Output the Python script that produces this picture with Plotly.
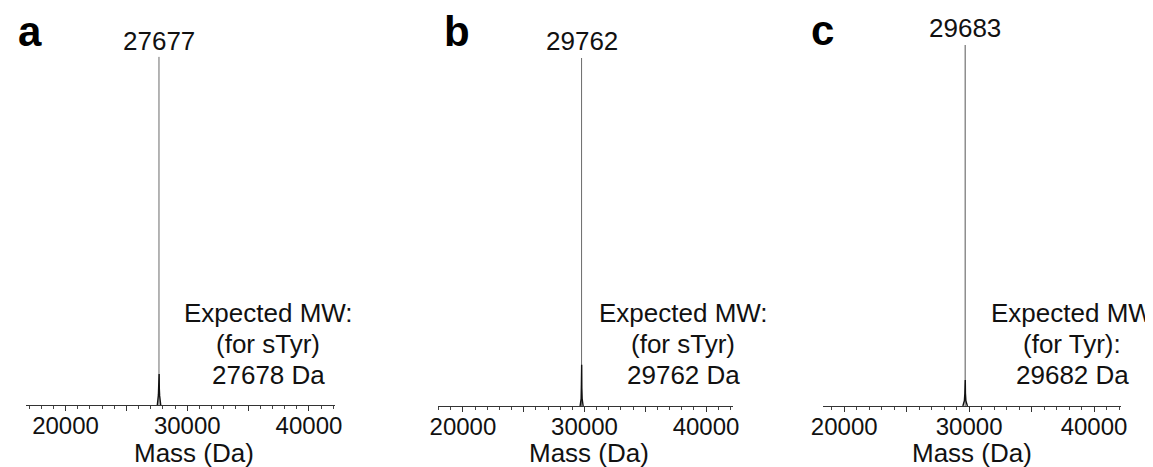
import plotly.graph_objects as go

W, H = 1153, 467

# ---- data -------------------------------------------------------------
panel_letters = ["a", "b", "c"]
peak_mass = [27677, 29762, 29683]          # labelled main peaks (Da)
peak_int = [96.7, 96.4, 100.0]             # relative intensity of main peaks

# low-intensity profile around the base of each main peak
base_mass_a = [27540, 27590, 27630, 27655, 27668, 27690, 27705, 27730, 27770, 27820]
base_int_a = [0.0, 1.2, 2.8, 5.5, 8.6, 8.6, 4.5, 2.6, 1.0, 0.0]
base_mass_b = [29640, 29690, 29725, 29748, 29755, 29770, 29782, 29810, 29850, 29890]
base_int_b = [0.0, 0.8, 2.0, 6.0, 11.4, 11.4, 5.0, 2.0, 0.8, 0.0]
base_mass_c = [29500, 29560, 29620, 29660, 29675, 29692, 29705, 29740, 29800, 29860]
base_int_c = [0.0, 0.6, 1.5, 3.5, 7.2, 7.2, 3.5, 1.5, 0.6, 0.0]
base_mass = [base_mass_a, base_mass_b, base_mass_c]
base_int = [base_int_a, base_int_b, base_int_c]

expected_lines = [
    ["Expected MW:", "(for sTyr)", "27678 Da"],
    ["Expected MW:", "(for sTyr)", "29762 Da"],
    ["Expected MW", "(for Tyr):", "29682 Da"],
]
x_ranges = [[16750, 42140], [17950, 42220], [18300, 42160]]
tick_vals = [20000, 25000, 30000, 35000, 40000]
tick_text = ["20000", "", "30000", "", "40000"]
x_title = "Mass (Da)"

# ---- layout geometry (pixels from the top-left of the page) -------------
ML, MR, MT, MB = 0, 0, 0, 0
PW, PH = W - ML - MR, H - MT - MB
x_dom_px = [(18, 327), (430, 725), (815, 1113)]
axis_y_px = [397, 398, 398]
top_px = 37
letter_pos = [(22, 24), (449, 24), (814, 22)]
peak_label_y = [33, 33, 20]
exp_x = [260, 675, 1064]
exp_y = [305, 336, 367]
title_x = [186, 581, 964]
title_y = 445

FONT = "Liberation Sans, Arial, Helvetica, sans-serif"


def px(xp):
    return (xp - ML) / PW


def py(yp):
    return 1 - (yp - MT) / PH


fig = go.Figure()
annotations = []
for i in range(3):
    s = "" if i == 0 else str(i + 1)
    xa, ya = "x" + s, "y" + s
    # main stick
    fig.add_trace(go.Scatter(
        x=[peak_mass[i], peak_mass[i]], y=[0, peak_int[i]], mode="lines",
        line=dict(color="#6a6a6a" if i < 2 else "#555555", width=1),
        xaxis=xa, yaxis=ya, showlegend=False, hoverinfo="skip"))
    # base profile
    fig.add_trace(go.Scatter(
        x=base_mass[i], y=base_int[i], mode="lines",
        line=dict(color="#111111", width=1.4),
        xaxis=xa, yaxis=ya, showlegend=False, hoverinfo="skip"))

    fig.update_layout(**{
        "xaxis" + s: dict(
            domain=[px(x_dom_px[i][0]), px(x_dom_px[i][1])],
            range=x_ranges[i], anchor=ya, automargin=False,
            showline=True, linecolor="#333333", linewidth=1,
            showgrid=False, zeroline=False,
            tickmode="array", tickvals=tick_vals, ticktext=tick_text,
            ticks="outside", ticklen=5, tickwidth=1, tickcolor="#333333",
            ticklabelstandoff=-6,
            minor=dict(dtick=1000, tick0=0, ticks="outside", ticklen=3,
                       tickwidth=1, tickcolor="#444444", showgrid=False),
            tickfont=dict(family=FONT, size=24, color="#111111"),
            fixedrange=True,
        ),
        "yaxis" + s: dict(
            domain=[py(axis_y_px[i]), py(top_px)],
            range=[0, 100], anchor=xa, visible=False, fixedrange=True,
            automargin=False,
        ),
    })

    annotations.append(dict(
        text="<b>%s</b>" % panel_letters[i], xref="paper", yref="paper",
        x=px(letter_pos[i][0]), y=py(letter_pos[i][1]),
        xanchor="center", yanchor="middle", showarrow=False,
        font=dict(family=FONT, size=42, color="#000000")))
    annotations.append(dict(
        text=str(peak_mass[i]), xref=xa, yref="paper",
        x=peak_mass[i], y=py(peak_label_y[i]),
        xanchor="center", yanchor="middle", showarrow=False,
        font=dict(family=FONT, size=26, color="#111111")))
    for j, line in enumerate(expected_lines[i]):
        annotations.append(dict(
            text=line, xref="paper", yref="paper",
            x=px(exp_x[i]), y=py(exp_y[j]),
            xanchor="center", yanchor="middle", showarrow=False,
            font=dict(family=FONT, size=26, color="#111111")))
    annotations.append(dict(
        text=x_title, xref="paper", yref="paper",
        x=px(title_x[i]), y=py(title_y),
        xanchor="center", yanchor="middle", showarrow=False,
        font=dict(family=FONT, size=26, color="#111111")))

fig.update_layout(
    width=W, height=H,
    margin=dict(l=ML, r=MR, t=MT, b=MB, autoexpand=False),
    paper_bgcolor="white", plot_bgcolor="white",
    annotations=annotations,
)

fig.write_html("out.html")
